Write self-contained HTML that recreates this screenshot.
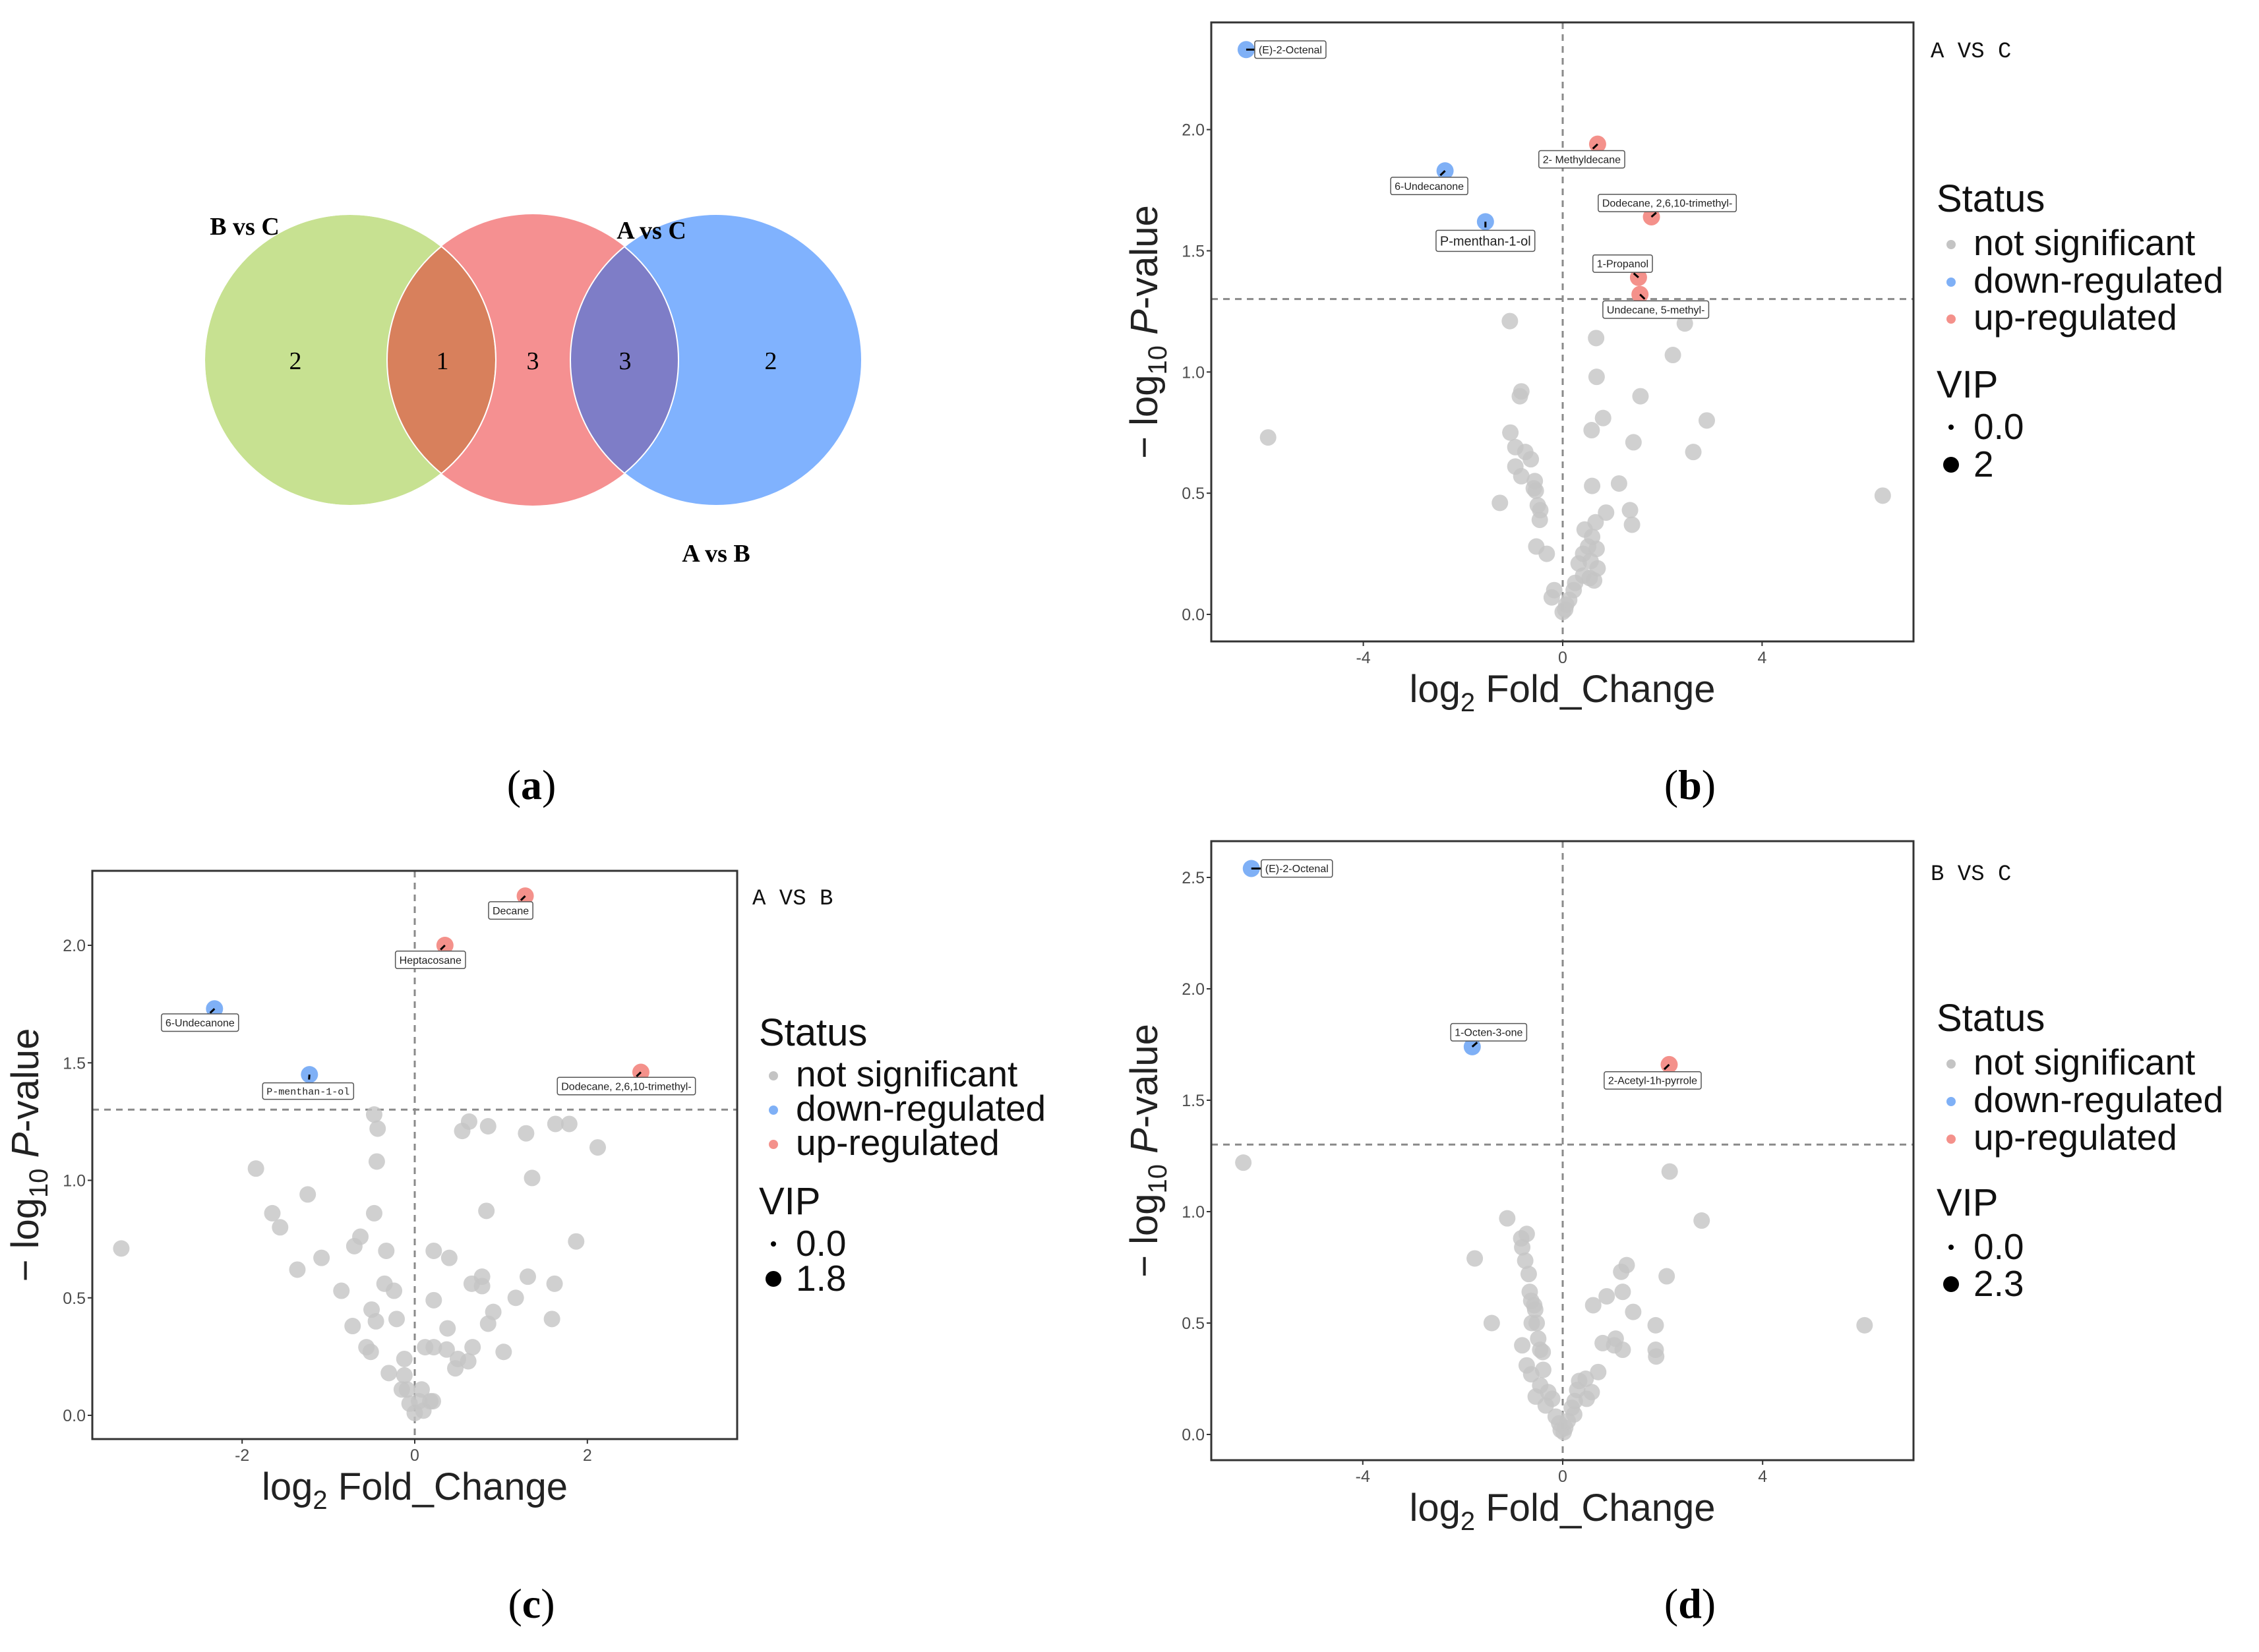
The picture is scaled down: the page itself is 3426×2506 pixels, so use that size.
<!DOCTYPE html>
<html><head><meta charset="utf-8">
<style>
html,body{margin:0;padding:0;background:#fff;}
svg{display:block;}
text{font-family:"Liberation Sans",sans-serif;}
.serif text, text.serif{font-family:"Liberation Serif",serif;}
text.mono{font-family:"Liberation Mono",monospace;}
</style></head>
<body>
<svg id="fig" width="3426" height="2506" viewBox="0 0 3426 2506" xmlns="http://www.w3.org/2000/svg">
  <g id="venn">
    <circle cx="531" cy="546" r="221" fill="#c7e191"/>
    <circle cx="808" cy="546" r="221" fill="#f59091"/>
    <circle cx="1086" cy="546" r="221" fill="#80b2fe"/>
    <clipPath id="cg"><circle cx="531" cy="546" r="221"/></clipPath>
    <clipPath id="cb"><circle cx="1086" cy="546" r="221"/></clipPath>
    <circle cx="808" cy="546" r="221" fill="#d8805c" clip-path="url(#cg)"/>
    <circle cx="808" cy="546" r="221" fill="#7e7dc7" clip-path="url(#cb)"/>
    <circle cx="531" cy="546" r="221" fill="none" stroke="#fff" stroke-width="2" clip-path="url(#cg)"/>
    <circle cx="808" cy="546" r="221" fill="none" stroke="#fff" stroke-width="2" clip-path="url(#cg)"/>
    <circle cx="808" cy="546" r="221" fill="none" stroke="#fff" stroke-width="2" clip-path="url(#cb)"/>
    <circle cx="1086" cy="546" r="221" fill="none" stroke="#fff" stroke-width="2"/>
    <circle cx="531" cy="546" r="221" fill="none" stroke="#fff" stroke-width="2"/>
    <g class="serif" font-size="38" text-anchor="middle">
      <text x="448" y="560">2</text>
      <text x="671" y="560">1</text>
      <text x="808" y="560">3</text>
      <text x="948" y="560">3</text>
      <text x="1169" y="560">2</text>
    </g>
    <g class="serif" font-size="38" font-weight="bold" text-anchor="middle">
      <text x="371" y="356">B vs C</text>
      <text x="988" y="362">A vs C</text>
      <text x="1086" y="852">A vs B</text>
    </g>
  </g>
  <g class="serif" font-size="64" text-anchor="middle">
    <text x="806" y="1212">(<tspan font-weight="bold">a</tspan>)</text>
    <text x="2563" y="1212">(<tspan font-weight="bold">b</tspan>)</text>
    <text x="806" y="2454">(<tspan font-weight="bold">c</tspan>)</text>
    <text x="2563" y="2454">(<tspan font-weight="bold">d</tspan>)</text>
  </g>
</svg>
<script>
// ---- Panel b: A VS C ----
const bX = [-6.35,-2.36,-1.55,0.70,1.78,1.52,1.55,
 -5.91,-1.06,0.67,2.45,2.21,0.68,1.56,-0.83,-0.86,0.81,0.58,2.89,-1.05,1.42,2.62,-0.95,-0.75,-0.64,-0.95,-0.83,-0.56,-0.58,-0.54,1.13,0.59,6.42,-1.26,-0.50,-0.45,-0.46,1.35,0.87,1.39,0.66,0.44,0.59,-0.53,-0.32,0.51,0.68,0.41,0.32,0.56,0.70,0.41,0.63,0.54,0.25,-0.17,-0.22,0.22,0.13,0.07,0.00,0.05];
const bY = [2.33,1.83,1.62,1.94,1.64,1.39,1.32,
 0.73,1.21,1.14,1.20,1.07,0.98,0.90,0.92,0.90,0.81,0.76,0.80,0.75,0.71,0.67,0.69,0.67,0.64,0.61,0.57,0.55,0.52,0.51,0.54,0.53,0.49,0.46,0.45,0.43,0.39,0.43,0.42,0.37,0.38,0.35,0.32,0.28,0.25,0.28,0.27,0.25,0.21,0.22,0.19,0.16,0.14,0.15,0.13,0.10,0.07,0.10,0.06,0.04,0.01,0.02];
const bStatus = ["down","down","down","up","up","up","up"];
const bLabels = ["(E)-2-Octenal","6-Undecanone","P-menthan-1-ol","2- Methyldecane","Dodecane, 2,6,10-trimethyl-","1-Propanol","Undecane, 5-methyl-"];
const bTicksX = [-4,0,4];
const bTicksY = [0.0,0.5,1.0,1.5,2.0];
const bTickLabelsY = ["0.0","0.5","1.0","1.5","2.0"];

// ---- Panel c: A VS B ----
const cX = [1.28,0.35,-2.32,-1.22,2.62,
 -3.40,-1.84,-0.47,-0.43,-0.44,-1.24,-1.65,-1.56,-0.47,-0.63,-0.70,-0.33,-1.08,-1.36,-0.85,-0.35,-0.24,-0.50,-0.45,-0.21,-0.72,-0.56,-0.51,-0.12,-0.30,-0.12,-0.15,-0.09,0.08,-0.06,0.05,0.18,0.21,0.10,0.00,
 0.55,0.63,0.85,1.29,1.63,1.79,2.12,1.36,0.83,1.87,0.22,0.40,1.31,0.66,0.78,0.78,1.62,1.17,0.22,0.91,0.38,0.85,1.59,0.12,0.22,0.37,0.67,1.03,0.50,0.62,0.47];
const cY = [2.21,2.00,1.73,1.45,1.46,
 0.71,1.05,1.28,1.22,1.08,0.94,0.86,0.80,0.86,0.76,0.72,0.70,0.67,0.62,0.53,0.56,0.53,0.45,0.40,0.41,0.38,0.29,0.27,0.24,0.18,0.17,0.11,0.11,0.11,0.05,0.06,0.06,0.06,0.02,0.01,
 1.21,1.25,1.23,1.20,1.24,1.24,1.14,1.01,0.87,0.74,0.70,0.67,0.59,0.56,0.59,0.55,0.56,0.50,0.49,0.44,0.37,0.39,0.41,0.29,0.29,0.28,0.29,0.27,0.24,0.23,0.20];
const cStatus = ["up","up","down","down","up"];
const cLabels = ["Decane","Heptacosane","6-Undecanone","P-menthan-1-ol","Dodecane, 2,6,10-trimethyl-"];
const cTicksX = [-2,0,2];
const cTicksY = [0.0,0.5,1.0,1.5,2.0];
const cTickLabelsY = ["0.0","0.5","1.0","1.5","2.0"];

// ---- Panel d: B VS C ----
const dX = [-6.23,-1.81,2.13,
 -6.39,2.14,-1.11,2.78,-0.72,-0.83,-0.81,-1.76,-0.75,-0.68,1.28,1.17,2.08,-0.66,-0.63,-0.57,-0.55,1.20,0.88,0.61,1.41,-1.42,-0.62,-0.52,1.86,6.04,-0.49,-0.81,-0.45,-0.40,1.06,0.80,1.03,1.20,1.86,1.87,-0.72,-0.63,-0.39,0.71,-0.45,-0.29,-0.54,-0.34,-0.21,0.33,0.46,0.29,0.58,0.48,0.24,0.18,0.23,-0.14,-0.07,0.10,0.05,-0.04,0.02];
const dY = [2.54,1.74,1.66,
 1.22,1.18,0.97,0.96,0.90,0.88,0.84,0.79,0.78,0.72,0.76,0.73,0.71,0.64,0.60,0.58,0.56,0.64,0.62,0.58,0.55,0.50,0.50,0.50,0.49,0.49,0.43,0.40,0.38,0.37,0.43,0.41,0.40,0.38,0.38,0.35,0.31,0.27,0.29,0.28,0.22,0.19,0.17,0.13,0.16,0.24,0.25,0.20,0.19,0.16,0.15,0.12,0.09,0.08,0.05,0.06,0.03,0.02,0.01];
const dStatus = ["down","down","up"];
const dLabels = ["(E)-2-Octenal","1-Octen-3-one","2-Acetyl-1h-pyrrole"];
const dTicksX = [-4,0,4];
const dTicksY = [0.0,0.5,1.0,1.5,2.0,2.5];
const dTickLabelsY = ["0.0","0.5","1.0","1.5","2.0","2.5"];

const threshold = 1.301;

const NS = "http://www.w3.org/2000/svg";
const fig = document.getElementById('fig');
const COL = {down:"#7fb0f6", up:"#f4918b", ns:"#c4c4c4"};
function mk(tag, attrs, parent){
  const e = document.createElementNS(NS, tag);
  for (const k in attrs) e.setAttribute(k, attrs[k]);
  (parent||fig).appendChild(e);
  return e;
}

function panel(cfg){
  const g = mk('g', {});
  
  
  const sx = v => cfg.x0 + v*cfg.kx;
  const sy = v => cfg.y0 - v*cfg.ky;
  const vl = mk('line', {x1:sx(0), x2:sx(0), y1:cfg.top, y2:cfg.bottom, stroke:"#8a8a8a", 'stroke-width':3, 'stroke-dasharray':"10 8"}, g);
  
  
  const hl = mk('line', {x1:cfg.left, x2:cfg.right, y1:sy(threshold), y2:sy(threshold), stroke:"#8a8a8a", 'stroke-width':3, 'stroke-dasharray':"10 8"}, g);
  
  
  const n = cfg.xs.length, ns = cfg.status.length;
  for (let i = n-1; i >= 0; i--){
    const sig = i < ns;
    const c = mk('circle', {cx:sx(cfg.xs[i]), cy:sy(cfg.ys[i]), r: sig ? 13 : 12.5, fill: sig ? COL[cfg.status[i]] : COL.ns, 'fill-opacity': sig ? 1 : 0.8}, g);
    
    
  }
  for (let i = 0; i < ns; i++){
    const px = sx(cfg.xs[i]), py = sy(cfg.ys[i]);
    const off = cfg.offs[i];
    const fs = off[2] || 16;
    const lg = mk('g', {}, g);
    
    
    mk('line', {x1:px, y1:py, x2:px+off[0]*0.3, y2:py+off[1]*0.3, stroke:"#000", 'stroke-width':3}, lg);
    const t = mk('text', {x:px+off[0], y:py+off[1]+fs*0.36, 'font-size':fs, 'text-anchor':'middle', fill:'#222'}, lg);
    if (off[3]) t.setAttribute('class','mono');
    t.textContent = cfg.labels[i];
    const w = t.getComputedTextLength();
    const r = mk('rect', {x:px+off[0]-w/2-6, y:py+off[1]-fs*0.7-2, width:w+12, height:fs*1.4+4, rx:3, fill:'#fff', stroke:'#555', 'stroke-width':1.5}, lg);
    lg.insertBefore(r, t);
  }
  const fr = mk('rect', {x:cfg.left, y:cfg.top, width:cfg.right-cfg.left, height:cfg.bottom-cfg.top, fill:'none', stroke:'#333', 'stroke-width':3}, g);
  
  
  cfg.ticksX.forEach(v => {
    mk('line', {x1:sx(v), x2:sx(v), y1:cfg.bottom, y2:cfg.bottom+7, stroke:'#333', 'stroke-width':2}, g);
    const t = mk('text', {x:sx(v), y:cfg.bottom+33, 'font-size':25, 'text-anchor':'middle', fill:'#4d4d4d'}, g);
    
    
    t.textContent = v;
  });
  cfg.ticksY.forEach((v, i) => {
    mk('line', {x1:cfg.left-7, x2:cfg.left, y1:sy(v), y2:sy(v), stroke:'#333', 'stroke-width':2}, g);
    const t = mk('text', {x:cfg.left-10, y:sy(v)+9, 'font-size':25, 'text-anchor':'end', fill:'#4d4d4d'}, g);
    
    
    t.textContent = cfg.tickLabelsY[i];
  });
  const xt = mk('text', {x:(cfg.left+cfg.right)/2, y:cfg.bottom+92, 'font-size':58, 'text-anchor':'middle', fill:'#222'}, g);
  
  
  xt.innerHTML = 'log<tspan font-size="40" dy="14">2</tspan><tspan dy="-14"> Fold_Change</tspan>';
  const cy = (cfg.top+cfg.bottom)/2;
  const yt = mk('text', {x:cfg.ytx, y:cy, 'font-size':58, 'text-anchor':'middle', fill:'#222', transform:`rotate(-90 ${cfg.ytx} ${cy})`}, g);
  
  
  yt.innerHTML = '− log<tspan font-size="40" dy="14">10</tspan><tspan dy="-14"> </tspan><tspan font-style="italic">P</tspan>-value';
  const ct = mk('text', {x:cfg.lg.cx, y:cfg.lg.cy, 'font-size':34, fill:'#111', 'class':'mono'}, g);
  
  
  ct.textContent = cfg.title;
  const L = cfg.lg;
  const st = mk('text', {x:L.x, y:L.ys[0], 'font-size':58, fill:'#111'}, g);
  
  
  st.textContent = 'Status';
  const ents = [['not significant', COL.ns], ['down-regulated', COL.down], ['up-regulated', COL.up]];
  ents.forEach((e, i) => {
    const yy = L.ys[i+1];
    mk('circle', {cx:L.x+22, cy:yy-16, r:7, fill:e[1]}, g);
    const t = mk('text', {x:L.x+56, y:yy, 'font-size':55, fill:'#111'}, g);
    
    
    t.textContent = e[0];
  });
  const vt = mk('text', {x:L.x, y:L.ys[4], 'font-size':58, fill:'#111'}, g);
  
  
  vt.textContent = 'VIP';
  [['0.0', 4], [cfg.vipMax, 12]].forEach((e, i) => {
    const yy = L.ys[5+i];
    mk('circle', {cx:L.x+22, cy:yy-18, r:e[1], fill:'#000'}, g);
    const t = mk('text', {x:L.x+56, y:yy, 'font-size':55, fill:'#111'}, g);
    
    
    t.textContent = e[0];
  });
}

panel({name:'volcano-a-vs-c', xs:bX, ys:bY, status:bStatus, labels:bLabels,
  left:1837, right:2902, top:34, bottom:973, x0:2370, kx:75.6, y0:932, ky:367.7,
  ticksX:bTicksX, ticksY:bTicksY, tickLabelsY:bTickLabelsY, ytx:1755, title:'A VS C', vipMax:'2',
  offs:[[67,0],[-24,23],[0,29,20],[-24,23],[24,-21],[-24,-21],[24,23]],
  lg:{x:2937, cx:2928, cy:87, ys:[321,387,444,500,603,666,723]}});
panel({name:'volcano-a-vs-b', xs:cX, ys:cY, status:cStatus, labels:cLabels,
  left:140, right:1118, top:1321, bottom:2183, x0:629, kx:130.9, y0:2147, ky:356.5,
  ticksX:cTicksX, ticksY:cTicksY, tickLabelsY:cTickLabelsY, ytx:58, title:'A VS B', vipMax:'1.8',
  offs:[[-22,22],[-22,22],[-22,21],[-2,25,15,1],[-22,21]],
  lg:{x:1151, cx:1141, cy:1372, ys:[1586,1648,1700,1752,1842,1905,1958]}});
panel({name:'volcano-b-vs-c', xs:dX, ys:dY, status:dStatus, labels:dLabels,
  left:1837, right:2902, top:1276, bottom:2215, x0:2370, kx:75.8, y0:2176, ky:338,
  ticksX:dTicksX, ticksY:dTicksY, tickLabelsY:dTickLabelsY, ytx:1755, title:'B VS C', vipMax:'2.3',
  offs:[[69,0],[25,-22],[-25,24]],
  lg:{x:2937, cx:2928, cy:1335, ys:[1564,1630,1687,1744,1844,1910,1966]}});
</script>
</body></html>
